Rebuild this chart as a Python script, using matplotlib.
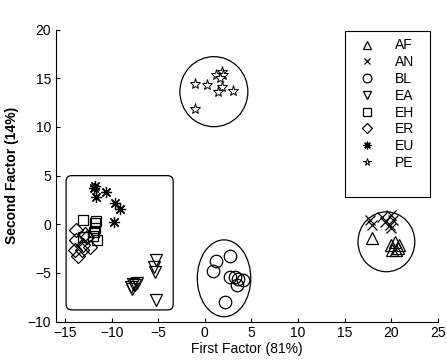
import matplotlib
matplotlib.use("Agg")
import matplotlib.pyplot as plt
from matplotlib.patches import Ellipse, FancyBboxPatch, Rectangle

plt.rcParams['font.family'] = ['Liberation Sans', 'DejaVu Sans']

# Factor scores per group: (first factor, second factor)
af_x = [17.9, 20.0, 20.4, 20.9, 20.7, 20.1, 20.5]
af_y = [-1.4, -2.1, -1.8, -2.1, -2.4, -2.6, -2.6]

an_x = [17.7, 17.9, 19.0, 19.3, 20.0, 20.2, 19.85, 20.0]
an_y = [0.45, -0.05, 0.8, 0.25, 0.95, 0.45, -0.05, -0.4]

bl_x = [1.2, 0.9, 2.7, 2.7, 3.2, 3.6, 4.05, 3.4, 2.15]
bl_y = [-3.8, -4.8, -3.3, -5.4, -5.45, -5.6, -5.75, -6.2, -7.95]

ea_x = [-5.2, -5.5, -5.35, -5.2, -7.7, -7.9, -7.5, -7.3, -7.8]
ea_y = [-3.7, -4.4, -4.9, -7.8, -6.1, -6.4, -6.2, -6.0, -6.6]

eh_x = [-13.1, -11.8, -11.8, -11.9, -11.6, -12.0, -13.1, -11.7]
eh_y = [0.45, 0.1, -0.4, -0.75, -1.6, -1.2, -1.3, 0.3]

er_x = [-13.8, -13.8, -13.95, -13.6, -13.1, -12.3, -12.7, -13.2, -12.9]
er_y = [-0.6, -1.6, -2.65, -3.3, -2.1, -2.3, -1.3, -2.6, -1.0]

eu_x = [-11.8, -11.9, -11.7, -10.6, -9.7, -9.1, -9.8]
eu_y = [3.9, 3.7, 2.8, 3.3, 2.15, 1.55, 0.25]

pe_x = [1.8, 1.25, 2.0, -1.1, 0.2, 1.8, 1.4, 3.0, -1.1, 1.6]
pe_y = [15.7, 15.35, 15.35, 14.4, 14.3, 14.1, 13.6, 13.7, 11.9, 15.0]

groups = ['AF', 'AN', 'BL', 'EA', 'EH', 'ER', 'EU', 'PE']

fig = plt.figure(figsize=(4.47, 3.6), dpi=100)
ax = fig.add_axes([0.125, 0.1067, 0.854, 0.8108])

mk = dict(color='black', linestyle='none', markerfacecolor='none', markeredgewidth=0.9)
ax.plot(af_x, af_y, marker='^', markersize=8, label=groups[0], **mk)
ax.plot(an_x, an_y, marker='x', markersize=7, label=groups[1], **mk)
ax.plot(bl_x, bl_y, marker='o', markersize=9, label=groups[2], **mk)
ax.plot(ea_x, ea_y, marker='v', markersize=8, label=groups[3], **mk)
ax.plot(eh_x, eh_y, marker='s', markersize=7.5, label=groups[4], **mk)
ax.plot(er_x, er_y, marker='D', markersize=7, label=groups[5], **mk)
ax.plot(eu_x, eu_y, marker=(8, 2, 0), markersize=8, label=groups[6], **mk)
ax.plot(pe_x, pe_y, marker='*', markersize=8, label=groups[7],
        color='black', linestyle='none', markerfacecolor='white', markeredgewidth=0.7)

# Cluster outlines
ax.add_patch(Ellipse((0.97, 13.63), 7.3, 7.2, fill=False, lw=0.9, ec='black'))
ax.add_patch(Ellipse((2.06, -5.55), 5.74, 7.9, fill=False, lw=0.9, ec='black'))
ax.add_patch(Ellipse((19.5, -1.8), 6.1, 6.15, fill=False, lw=0.9, ec='black'))
ax.add_patch(FancyBboxPatch((-14.4, -8.3), 10.5, 12.8,
                            boxstyle='round,pad=0.5,rounding_size=0.6',
                            fill=False, lw=0.9, ec='black'))

ax.set_xlim(-16, 25)
ax.set_ylim(-10, 20)
ax.set_xticks(range(-15, 26, 5))
ax.set_yticks(range(-10, 21, 5))
ax.tick_params(direction='in', length=3, labelsize=10, width=0.8)
for side in ('top', 'right'):
    ax.spines[side].set_visible(False)
for side in ('left', 'bottom'):
    ax.spines[side].set_linewidth(0.8)

ax.set_xlabel('First Factor (81%)', fontsize=10, labelpad=1)
ax.set_ylabel('Second Factor (14%)', fontsize=10, fontweight='bold', labelpad=6)

# Legend entries, with a taller frame drawn separately
ax.legend(loc='upper left', bbox_to_anchor=(0.793, 0.97), frameon=False,
          markerscale=0.7, fontsize=10, handlelength=1.2, handletextpad=1.4,
          borderpad=0, labelspacing=0.2, borderaxespad=0)
ax.add_patch(Rectangle((0.757, 0.427), 0.223, 0.5685, transform=ax.transAxes,
                       fill=False, lw=0.8, ec='black', clip_on=False))

fig.savefig('out.png', dpi=100)
